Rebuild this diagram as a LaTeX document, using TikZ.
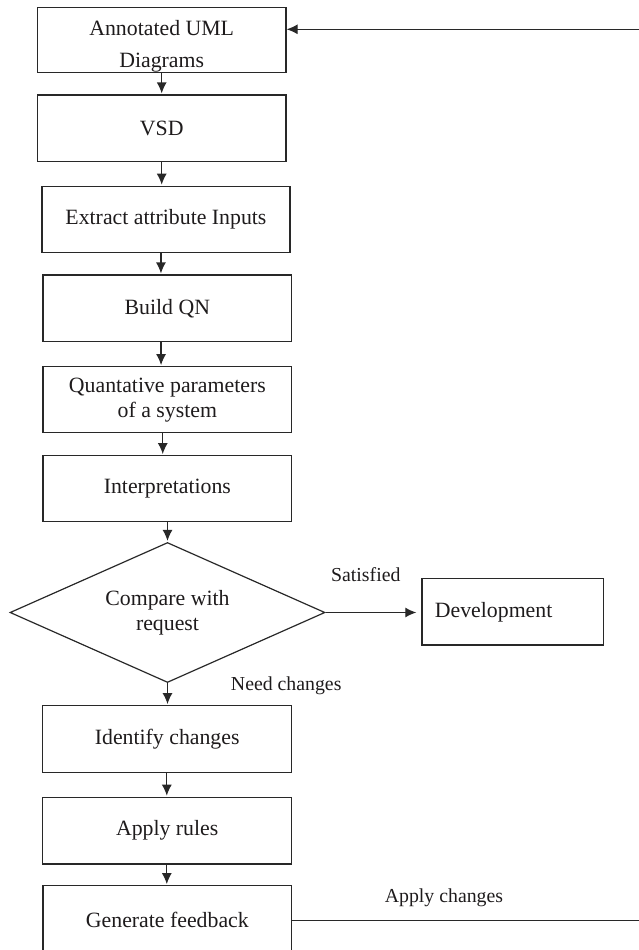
\documentclass[tikz,border=0pt]{standalone}
\usepackage{fontspec}
\setmainfont{Liberation Serif}
\usetikzlibrary{arrows.meta,shapes.geometric}
\definecolor{ink}{RGB}{30,27,28}
\definecolor{edge}{RGB}{40,40,40}
\begin{document}
\begin{tikzpicture}[x=1pt,y=-1pt,
  box/.style={draw=edge, line width=1.2pt, inner sep=0pt, text=ink,
    font=\fontsize{21.8}{25}\selectfont, align=center},
  lbl/.style={text=ink, inner sep=0pt, anchor=base,
    font=\fontsize{19.8}{24}\selectfont},
  arr/.style={draw=edge, line width=1.2pt, -{Latex[length=11pt,width=10pt]}, shorten >=1pt}]
\useasboundingbox (0,0) rectangle (638,950);

% process boxes
\node[box, minimum width=248.6pt, minimum height=65.4pt] (b1) at (161.7,40) {};
\node[text=ink, inner sep=0pt, align=center, font=\fontsize{21.8}{32.5}\selectfont] (b1t) at (161.7,46.2) {Annotated UML\\Diagrams};
\node[box, minimum width=248.6pt, minimum height=66.7pt] (b2) at (161.7,128.35) {VSD};
\node[box, minimum width=248.1pt, minimum height=66.4pt] (b3) at (165.95,219.5) {Extract attribute Inputs};
\node[box, minimum width=248.7pt, minimum height=66.7pt] (b4) at (167.35,308.35) {Build QN};
\node[box, minimum width=248.7pt, minimum height=66pt] (b5) at (167.35,399.7) {Quantative parameters\\of a system};
\node[box, minimum width=248.7pt, minimum height=66pt] (b6) at (167.35,488.7) {Interpretations};
\node[box, diamond, aspect=2.25, minimum width=315pt, minimum height=140pt] (dia) at (167.5,612.5) {Compare with\\request};
\node[box, minimum width=181.4pt, minimum height=66.3pt, text width=155.4pt, align=left, inner xsep=13pt] (dev) at (512.6,611.9) {Development};
\node[box, minimum width=249pt, minimum height=66.6pt] (b7) at (167.2,739) {Identify changes};
\node[box, minimum width=249pt, minimum height=66.7pt] (b8) at (167.2,830.65) {Apply rules};
\node[box, minimum width=248.7pt, minimum height=67.6pt] (b9) at (167.35,919.5) {Generate feedback};

% labels
\node[lbl] (sat) at (365.8,581.7) {Satisfied};
\node[lbl] (need) at (286.2,690) {Need changes};
\node[lbl] (appl) at (444,902) {Apply changes};

% vertical flow
\draw[arr] (b1.south) -- (b1.south |- b2.north);
\draw[arr] (b2.south) -- (b2.south |- b3.north);
\draw[arr] ([xshift=-5pt]b3.south) -- ([xshift=-5pt]b3.south |- b4.north);
\draw[arr] ([xshift=-6.3pt]b4.south) -- ([xshift=-6.3pt]b4.south |- b5.north);
\draw[arr] ([xshift=-4.6pt]b5.south) -- ([xshift=-4.6pt]b5.south |- b6.north);
\draw[arr] (dia.north |- b6.south) -- (dia.north);
\draw[arr] (dia.south) -- (dia.south |- b7.north);
\draw[arr] ([xshift=-0.4pt]b7.south) -- ([xshift=-0.4pt]b7.south |- b8.north);
\draw[arr] ([xshift=-0.4pt]b8.south) -- ([xshift=-0.4pt]b8.south |- b9.north);

% branches
\draw[arr, shorten >=5pt] (dia.east) -- (dia.east -| dev.west);
\coordinate (R) at (642,0);
\coordinate (b1in) at ([yshift=10.7pt]b1.east);
\draw[arr, shorten >=0pt] ([yshift=-1.2pt]b9.east) -- ([yshift=-1.2pt]b9.east -| R) -- (R |- b1in) -- (b1in);
\end{tikzpicture}
\end{document}
